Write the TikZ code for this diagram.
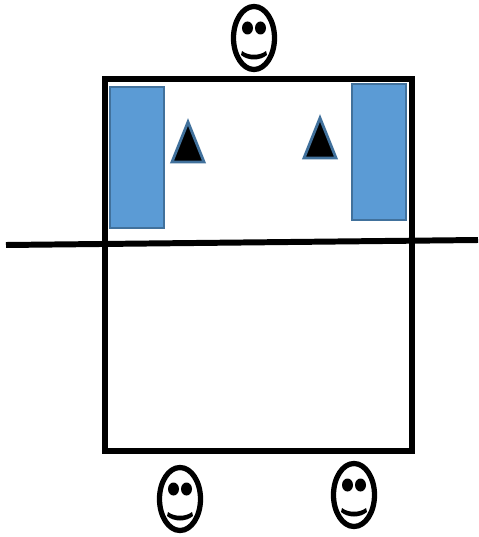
\documentclass[tikz,border=0pt]{standalone}
\definecolor{boxblue}{HTML}{5B9BD5}
\definecolor{edgeblue}{HTML}{41719C}

\begin{document}
\begin{tikzpicture}[x=0.02cm,y=-0.02cm]
  \tikzset{wall/.style={line width=3.4pt,black}}
  \tikzset{seat/.style={draw=edgeblue,fill=boxblue,line width=1.4pt}}
  \tikzset{cone/.style={draw=edgeblue,fill=black,line width=1.6pt,line join=miter}}
  \tikzset{smiley/.pic={
    \draw[line width=3pt] (0,0) ellipse [x radius=20.5,y radius=31.5];
    \fill (-6.5,-10) ellipse [x radius=5.5,y radius=6.5];
    \fill (6.5,-10) ellipse [x radius=5.5,y radius=6.5];
    \fill (-12,13) .. controls (-6,18) and (6,18) .. (12,13)
      -- (13,17) .. controls (6,23) and (-6,23) .. (-13,17) -- cycle;
  }}

  \useasboundingbox (0,0) rectangle (478,537);

  \draw[wall] (105,79) rectangle (412,451);
  \draw[wall] (6,245) -- (478,240);

  \draw[seat] (110,87) rectangle (164,228);
  \draw[seat] (352,84) rectangle (406,220);

  \draw[cone] (188,122) -- (204,162) -- (172,162) -- cycle;
  \draw[cone] (320,118) -- (336,158) -- (304,158) -- cycle;

  \foreach \x/\y in {254/38,180/499,354/495}
    \pic at (\x,\y) {smiley};
\end{tikzpicture}
\end{document}
